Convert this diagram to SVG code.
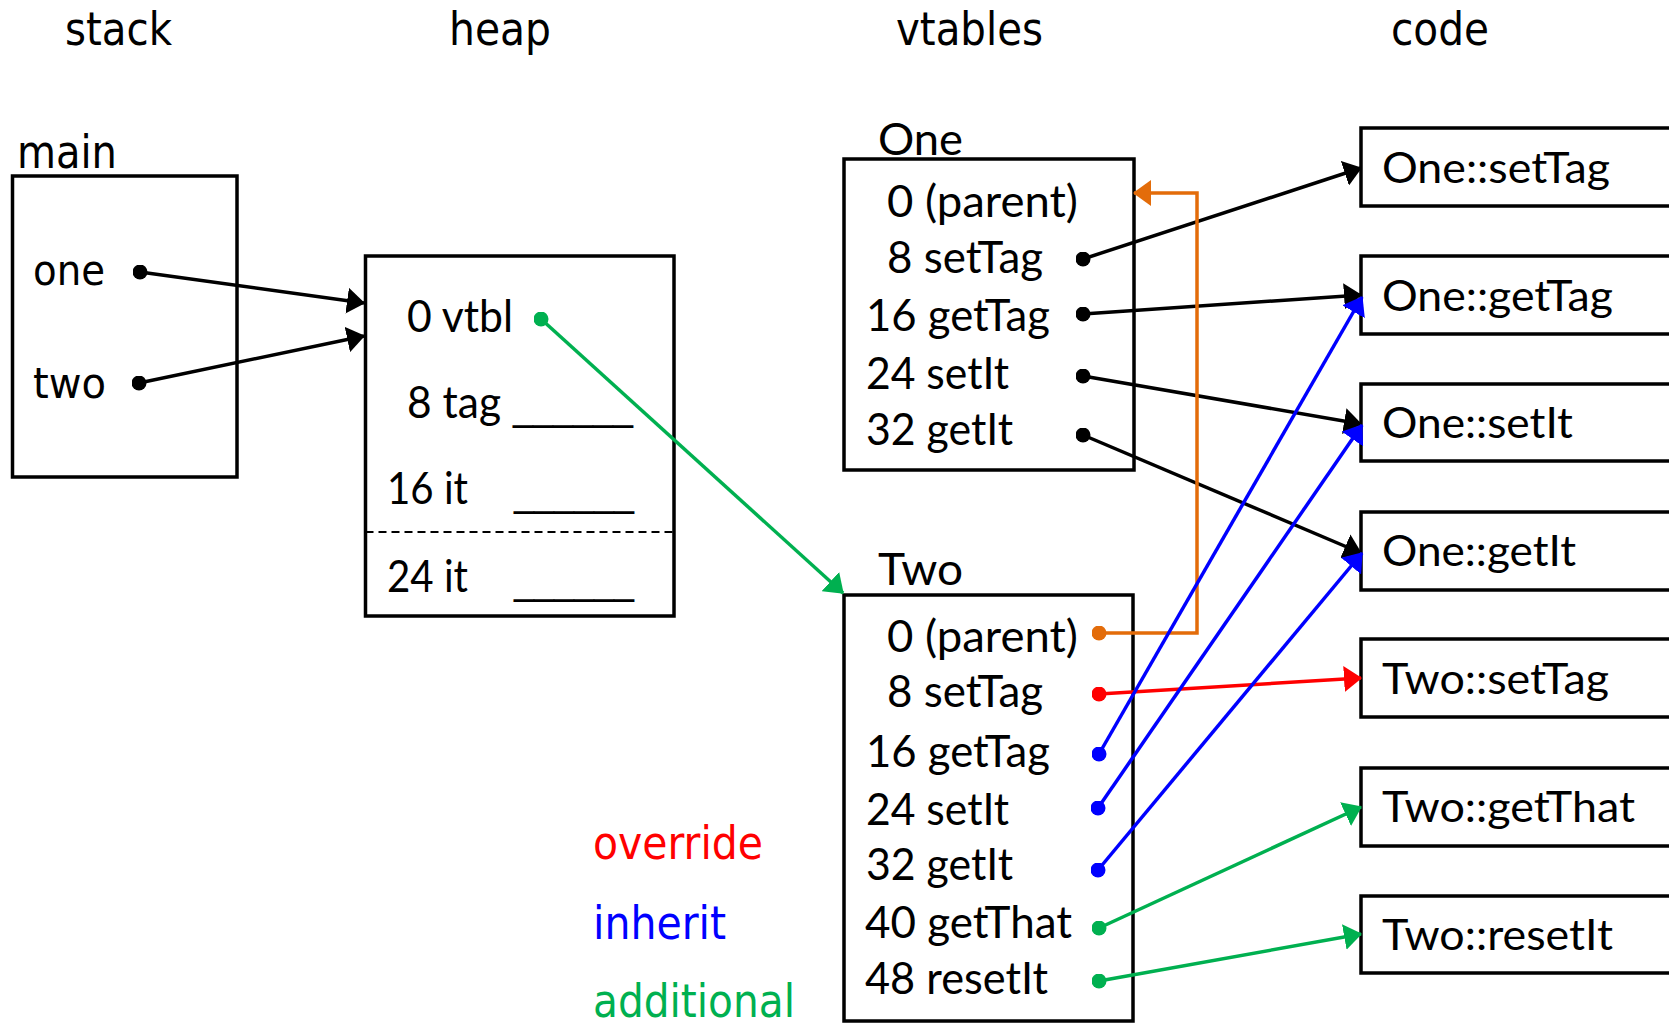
<svg xmlns="http://www.w3.org/2000/svg" width="1669" height="1024" viewBox="0 0 1669 1024">
<style>
  .box { fill: none; stroke: #000; stroke-width: 3.5; }
  .h { font-family: "DejaVu Sans Condensed", "DejaVu Sans", sans-serif; font-size: 46px; fill: #000; }
  .s { font-family: "DejaVu Sans Condensed", "DejaVu Sans", sans-serif; font-size: 42px; fill: #000; }
  .c { font-family: Lato, "Open Sans", sans-serif; font-size: 45px; fill: #000; }
  .u { font-family: "Liberation Sans", Arial, sans-serif; font-size: 45px; fill: #000; }
  .k { font-family: Lato, "Open Sans", sans-serif; font-size: 43px; fill: #000; }
  .lg { font-family: "DejaVu Sans Condensed", "DejaVu Sans", sans-serif; font-size: 47px; }
  .ln { fill: none; stroke-width: 3.5; }
  .blk { stroke: #000; }
  .grn { stroke: #00B050; }
  .blu { stroke: #0000FF; }
  .red { stroke: #FF0000; }
  .org { stroke: #E36C0A; }
</style>
<defs>
  <marker id="aK" markerUnits="userSpaceOnUse" viewBox="0 0 18 26" refX="17" refY="13" markerWidth="18" markerHeight="26" orient="auto"><path d="M0,0 L18,13 L0,26 z" fill="#000"/></marker>
  <marker id="aG" markerUnits="userSpaceOnUse" viewBox="0 0 18 26" refX="17" refY="13" markerWidth="18" markerHeight="26" orient="auto"><path d="M0,0 L18,13 L0,26 z" fill="#00B050"/></marker>
  <marker id="aB" markerUnits="userSpaceOnUse" viewBox="0 0 18 26" refX="17" refY="13" markerWidth="18" markerHeight="26" orient="auto"><path d="M0,0 L18,13 L0,26 z" fill="#0000FF"/></marker>
  <marker id="aR" markerUnits="userSpaceOnUse" viewBox="0 0 18 26" refX="17" refY="13" markerWidth="18" markerHeight="26" orient="auto"><path d="M0,0 L18,13 L0,26 z" fill="#FF0000"/></marker>
  <marker id="aO" markerUnits="userSpaceOnUse" viewBox="0 0 18 26" refX="17" refY="13" markerWidth="18" markerHeight="26" orient="auto"><path d="M0,0 L18,13 L0,26 z" fill="#E36C0A"/></marker>
  <marker id="dK" markerUnits="userSpaceOnUse" viewBox="0 0 15 15" refX="7.5" refY="7.5" markerWidth="15" markerHeight="15"><circle cx="7.5" cy="7.5" r="7.5" fill="#000"/></marker>
  <marker id="dG" markerUnits="userSpaceOnUse" viewBox="0 0 15 15" refX="7.5" refY="7.5" markerWidth="15" markerHeight="15"><circle cx="7.5" cy="7.5" r="7.5" fill="#00B050"/></marker>
  <marker id="dB" markerUnits="userSpaceOnUse" viewBox="0 0 15 15" refX="7.5" refY="7.5" markerWidth="15" markerHeight="15"><circle cx="7.5" cy="7.5" r="7.5" fill="#0000FF"/></marker>
  <marker id="dR" markerUnits="userSpaceOnUse" viewBox="0 0 15 15" refX="7.5" refY="7.5" markerWidth="15" markerHeight="15"><circle cx="7.5" cy="7.5" r="7.5" fill="#FF0000"/></marker>
  <marker id="dO" markerUnits="userSpaceOnUse" viewBox="0 0 15 15" refX="7.5" refY="7.5" markerWidth="15" markerHeight="15"><circle cx="7.5" cy="7.5" r="7.5" fill="#E36C0A"/></marker>
</defs>
<rect width="1669" height="1024" fill="#fff"/>

<g id="headings">
  <text class="h" x="65" y="45" textLength="107" lengthAdjust="spacingAndGlyphs">stack</text>
  <text class="h" x="449" y="45" textLength="102" lengthAdjust="spacingAndGlyphs">heap</text>
  <text class="h" x="896" y="45" textLength="147" lengthAdjust="spacingAndGlyphs">vtables</text>
  <text class="h" x="1391" y="45" textLength="98" lengthAdjust="spacingAndGlyphs">code</text>
</g>

<g id="main">
  <text class="h" x="17" y="168" textLength="100" lengthAdjust="spacingAndGlyphs">main</text>
  <rect class="box" x="12.5" y="176" width="224.5" height="301"/>
  <text class="s" x="33" y="285" textLength="72" lengthAdjust="spacingAndGlyphs">one</text>
  <text class="s" x="33" y="398" textLength="73" lengthAdjust="spacingAndGlyphs">two</text>
</g>

<g id="heap">
  <rect class="box" x="365.5" y="256" width="308.5" height="360"/>
  <line x1="365.5" y1="532" x2="674" y2="532" stroke="#000" stroke-width="2" stroke-dasharray="8 5"/>
  <text class="c" x="407" y="332" textLength="106" lengthAdjust="spacingAndGlyphs">0 vtbl</text>
  <text class="c" x="407" y="418" textLength="94" lengthAdjust="spacingAndGlyphs">8 tag</text>
  <text class="u" x="513" y="419" textLength="120" lengthAdjust="spacingAndGlyphs">______</text>
  <text class="c" x="387" y="504" textLength="81" lengthAdjust="spacingAndGlyphs">16 it</text>
  <text class="u" x="514" y="505" textLength="120" lengthAdjust="spacingAndGlyphs">______</text>
  <text class="c" x="387" y="592" textLength="81" lengthAdjust="spacingAndGlyphs">24 it</text>
  <text class="u" x="514" y="593" textLength="120" lengthAdjust="spacingAndGlyphs">______</text>
</g>

<g id="vtable-one">
  <text class="c" x="878" y="155" textLength="85" lengthAdjust="spacingAndGlyphs">One</text>
  <rect class="box" x="844" y="159" width="290" height="311"/>
  <text class="c" x="887" y="217" textLength="191" lengthAdjust="spacingAndGlyphs">0 (parent)</text>
  <text class="c" x="887" y="273" textLength="156" lengthAdjust="spacingAndGlyphs">8 setTag</text>
  <text class="c" x="866" y="331" textLength="184" lengthAdjust="spacingAndGlyphs">16 getTag</text>
  <text class="c" x="866" y="389" textLength="143" lengthAdjust="spacingAndGlyphs">24 setIt</text>
  <text class="c" x="866" y="445" textLength="147" lengthAdjust="spacingAndGlyphs">32 getIt</text>
</g>

<g id="vtable-two">
  <text class="c" x="878" y="585" textLength="85" lengthAdjust="spacingAndGlyphs">Two</text>
  <rect class="box" x="844" y="595" width="289" height="426"/>
  <text class="c" x="887" y="652" textLength="191" lengthAdjust="spacingAndGlyphs">0 (parent)</text>
  <text class="c" x="887" y="707" textLength="156" lengthAdjust="spacingAndGlyphs">8 setTag</text>
  <text class="c" x="866" y="767" textLength="184" lengthAdjust="spacingAndGlyphs">16 getTag</text>
  <text class="c" x="866" y="825" textLength="143" lengthAdjust="spacingAndGlyphs">24 setIt</text>
  <text class="c" x="866" y="880" textLength="147" lengthAdjust="spacingAndGlyphs">32 getIt</text>
  <text class="c" x="865" y="938" textLength="207" lengthAdjust="spacingAndGlyphs">40 getThat</text>
  <text class="c" x="865" y="994" textLength="183" lengthAdjust="spacingAndGlyphs">48 resetIt</text>
</g>

<g id="code-one-setTag">
  <rect class="box" x="1361" y="128" width="330" height="78"/>
  <text class="k" x="1382" y="183" textLength="228" lengthAdjust="spacingAndGlyphs">One::setTag</text>
</g>
<g id="code-one-getTag">
  <rect class="box" x="1361" y="256" width="330" height="78"/>
  <text class="k" x="1382" y="311" textLength="231" lengthAdjust="spacingAndGlyphs">One::getTag</text>
</g>
<g id="code-one-setIt">
  <rect class="box" x="1361" y="384" width="330" height="77"/>
  <text class="k" x="1382" y="438" textLength="191" lengthAdjust="spacingAndGlyphs">One::setIt</text>
</g>
<g id="code-one-getIt">
  <rect class="box" x="1361" y="512" width="330" height="78"/>
  <text class="k" x="1382" y="566" textLength="194" lengthAdjust="spacingAndGlyphs">One::getIt</text>
</g>
<g id="code-two-setTag">
  <rect class="box" x="1361" y="639" width="330" height="78"/>
  <text class="k" x="1382" y="694" textLength="227" lengthAdjust="spacingAndGlyphs">Two::setTag</text>
</g>
<g id="code-two-getThat">
  <rect class="box" x="1361" y="768" width="330" height="78"/>
  <text class="k" x="1382" y="822" textLength="253" lengthAdjust="spacingAndGlyphs">Two::getThat</text>
</g>
<g id="code-two-resetIt">
  <rect class="box" x="1361" y="896" width="330" height="77"/>
  <text class="k" x="1382" y="950" textLength="231" lengthAdjust="spacingAndGlyphs">Two::resetIt</text>
</g>

<g id="legend">
  <text class="lg" x="593" y="859" fill="#FF0000" textLength="170" lengthAdjust="spacingAndGlyphs">override</text>
  <text class="lg" x="593" y="939" fill="#0000FF" textLength="133" lengthAdjust="spacingAndGlyphs">inherit</text>
  <text class="lg" x="593" y="1017" fill="#00B050" textLength="202" lengthAdjust="spacingAndGlyphs">additional</text>
</g>

<g id="connectors">
  <line class="ln blk" x1="140" y1="272" x2="364" y2="303" marker-start="url(#dK)" marker-end="url(#aK)"/>
  <line class="ln blk" x1="139" y1="383" x2="364" y2="336" marker-start="url(#dK)" marker-end="url(#aK)"/>
  <line class="ln grn" x1="541" y1="319" x2="843" y2="593" marker-start="url(#dG)" marker-end="url(#aG)"/>
  <line class="ln blk" x1="1083" y1="259" x2="1361" y2="168" marker-start="url(#dK)" marker-end="url(#aK)"/>
  <line class="ln blk" x1="1083" y1="314" x2="1361" y2="295" marker-start="url(#dK)" marker-end="url(#aK)"/>
  <line class="ln blk" x1="1083" y1="376" x2="1361" y2="424" marker-start="url(#dK)" marker-end="url(#aK)"/>
  <line class="ln blk" x1="1083" y1="435" x2="1361" y2="553" marker-start="url(#dK)" marker-end="url(#aK)"/>
  <polyline class="ln org" points="1099,633 1197,633 1197,193 1134,193" marker-start="url(#dO)" marker-end="url(#aO)"/>
  <line class="ln red" x1="1099" y1="694" x2="1361" y2="678" marker-start="url(#dR)" marker-end="url(#aR)"/>
  <line class="ln blu" x1="1099" y1="754" x2="1362" y2="297" marker-start="url(#dB)" marker-end="url(#aB)"/>
  <line class="ln blu" x1="1098" y1="808" x2="1362" y2="425" marker-start="url(#dB)" marker-end="url(#aB)"/>
  <line class="ln blu" x1="1098" y1="870" x2="1362" y2="553" marker-start="url(#dB)" marker-end="url(#aB)"/>
  <line class="ln grn" x1="1099" y1="928" x2="1361" y2="807" marker-start="url(#dG)" marker-end="url(#aG)"/>
  <line class="ln grn" x1="1099" y1="981" x2="1361" y2="934" marker-start="url(#dG)" marker-end="url(#aG)"/>
</g>
</svg>
